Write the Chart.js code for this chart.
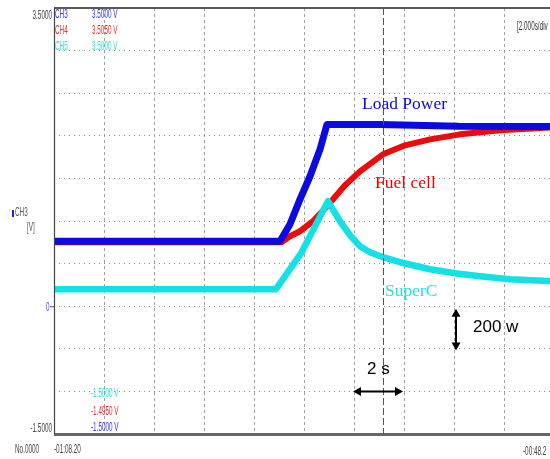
<!DOCTYPE html>
<html>
<head>
<meta charset="utf-8">
<script src="https://cdn.jsdelivr.net/npm/chart.js@4"></script>
<style>
  html, body { margin: 0; padding: 0; overflow: hidden; background: #fff; }
  #wrap { width: 560px; height: 459px; }
</style>
</head>
<body>
<div id="wrap"><canvas id="scope" width="560" height="459"></canvas></div>
<script>
// time in seconds (2 s/div, 10 div), values in volts (0.5 V/div)
const loadTime  = [0, 9.04, 9.44, 9.84, 10.24, 10.64, 10.92, 13.0, 16.2, 20];
const loadPower = [0.763, 0.763, 0.962, 1.255, 1.525, 1.841, 2.134, 2.134, 2.111, 2.11];

const fuelTime = [0, 9.1, 9.44, 9.84, 10.36, 10.92, 11.64, 12.24, 13.16, 14.04, 15.04, 16.24, 17.84, 20];
const fuelCell = [0.751, 0.751, 0.821, 0.880, 0.997, 1.173, 1.419, 1.583, 1.783, 1.888, 1.958, 2.017, 2.064, 2.099];

const superTime = [0, 8.88, 9.9, 10.96, 11.44, 11.84, 12.24, 12.64, 13.16, 13.84, 15.04, 16.04, 17.04, 18.24, 20];
const superC    = [0.200, 0.200, 0.63, 1.232, 0.997, 0.833, 0.704, 0.634, 0.575, 0.516, 0.434, 0.387, 0.352, 0.317, 0.294];

const yMin = -1.5, yMax = 3.5, yStep = 0.5;
const tMin = 0, tMax = 20, tStep = 2;
const cursorT = 13.16;

// scale annotation arrows (200 w per div, 2 s per div)
const powerArrow = { t: 16.08, from: -0.03, to: -0.52 };
const timeArrow = { v: -1.0, from: 11.96, to: 13.96 };

const pts = (xs, ys) => xs.map((x, i) => ({ x: x, y: ys[i] }));

function txt(ctx, s, x, y, font, color, align, sx, base) {
  ctx.save();
  ctx.font = font;
  ctx.fillStyle = color;
  ctx.textAlign = align || "left";
  ctx.textBaseline = base || "middle";
  ctx.translate(x, y);
  ctx.scale(sx || 1, 1);
  ctx.fillText(s, 0, 0);
  ctx.restore();
}

function arrowHead(ctx, x, y, dx, dy) {
  const L = 8, W = 4.5;
  ctx.beginPath();
  ctx.moveTo(x, y);
  ctx.lineTo(x - dx * L - dy * W, y - dy * L + dx * W);
  ctx.lineTo(x - dx * L + dy * W, y - dy * L - dx * W);
  ctx.closePath();
  ctx.fill();
}

const scopeDecor = {
  id: "scopeDecor",
  afterDraw(chart) {
    const ctx = chart.ctx;
    const a = chart.chartArea;
    const xs = chart.scales.x, ys = chart.scales.y;
    const small = "12px 'Liberation Sans', Arial, sans-serif";
    const sq = 0.53;

    // frame
    ctx.save();
    ctx.strokeStyle = "#5a5a5a";
    ctx.lineWidth = 2;
    ctx.beginPath(); ctx.moveTo(a.left, a.top); ctx.lineTo(a.right, a.top); ctx.stroke();
    ctx.lineWidth = 3;
    ctx.strokeStyle = "#666";
    ctx.beginPath(); ctx.moveTo(a.left, a.bottom + 0.5); ctx.lineTo(a.right, a.bottom + 0.5); ctx.stroke();
    ctx.lineWidth = 1.2;
    ctx.strokeStyle = "#444";
    ctx.beginPath(); ctx.moveTo(a.left + 0.5, a.top); ctx.lineTo(a.left + 0.5, a.bottom); ctx.stroke();

    // cursor
    const cx = Math.round(xs.getPixelForValue(cursorT)) + 0.5;
    ctx.strokeStyle = "#555";
    ctx.lineWidth = 1;
    ctx.setLineDash([7, 3]);
    ctx.beginPath(); ctx.moveTo(cx, a.top); ctx.lineTo(cx, a.bottom); ctx.stroke();
    ctx.setLineDash([]);

    // arrows
    ctx.strokeStyle = "#000";
    ctx.fillStyle = "#000";
    ctx.lineWidth = 2;
    const px = xs.getPixelForValue(powerArrow.t);
    const p1 = ys.getPixelForValue(powerArrow.from), p2 = ys.getPixelForValue(powerArrow.to);
    ctx.beginPath(); ctx.moveTo(px, p1 + 4); ctx.lineTo(px, p2 - 4); ctx.stroke();
    arrowHead(ctx, px, p1, 0, -1);
    arrowHead(ctx, px, p2, 0, 1);
    const ty = ys.getPixelForValue(timeArrow.v);
    const t1 = xs.getPixelForValue(timeArrow.from), t2 = xs.getPixelForValue(timeArrow.to);
    ctx.beginPath(); ctx.moveTo(t1 + 4, ty); ctx.lineTo(t2 - 4, ty); ctx.stroke();
    arrowHead(ctx, t1, ty, -1, 0);
    arrowHead(ctx, t2, ty, 1, 0);
    ctx.restore();

    // trace labels
    const serif = "17.5px 'Liberation Serif', 'Times New Roman', serif";
    txt(ctx, "Load Power", 362, 109, serif, "#0a0ad2", "left", 1, "alphabetic");
    txt(ctx, "Fuel cell", 375, 188, serif, "#f00000", "left", 1, "alphabetic");
    txt(ctx, "SuperC", 385, 296, serif, "#22e0e0", "left", 1, "alphabetic");
    const sans = "17px 'Liberation Sans', Arial, sans-serif";
    txt(ctx, "200 w", 473, 332, sans, "#000", "left", 1, "alphabetic");
    txt(ctx, "2 s", 367, 374, sans, "#000", "left", 1, "alphabetic");

    // scope readouts
    txt(ctx, "3.5000", 52, 16, small, "#444", "right", sq);
    txt(ctx, "CH3", 55, 15, small, "#3636e6", "left", sq);
    txt(ctx, "3.5000 V", 92, 15, small, "#3636e6", "left", sq);
    txt(ctx, "CH4", 55, 31, small, "#e83030", "left", sq);
    txt(ctx, "3.5050 V", 92, 31, small, "#e83030", "left", sq);
    txt(ctx, "CH5", 55, 47, small, "#30dada", "left", sq);
    txt(ctx, "3.5000 V", 92, 47, small, "#30dada", "left", sq);
    txt(ctx, "[2.000s/div", 517, 27, small, "#333", "left", sq);

    txt(ctx, "-1.5000 V", 91, 394, small, "#30dada", "left", sq);
    txt(ctx, "-1.4950 V", 91, 412, small, "#e83030", "left", sq);
    txt(ctx, "-1.5000 V", 91, 428, small, "#3636e6", "left", sq);
    txt(ctx, "-1.5000", 52, 429, small, "#444", "right", sq);

    ctx.save();
    ctx.fillStyle = "#2020e0";
    ctx.fillRect(12, 210, 2, 7);
    ctx.restore();
    txt(ctx, "CH3", 15, 213, small, "#555", "left", sq);
    txt(ctx, "[V]", 27, 228, small, "#555", "left", sq);

    const zy = ys.getPixelForValue(0);
    txt(ctx, "0", 46, zy + 1, small, "#4848d8", "left", sq);
    ctx.save();
    ctx.strokeStyle = "#4848d8";
    ctx.lineWidth = 1;
    ctx.beginPath(); ctx.moveTo(50, zy + 0.5); ctx.lineTo(a.left, zy + 0.5); ctx.stroke();
    ctx.restore();

    txt(ctx, "No.0000", 15, 450, small, "#444", "left", sq);
    txt(ctx, "-01:08.20", 54, 450, small, "#444", "left", sq);
    txt(ctx, "-00:48.2", 523, 452, small, "#444", "left", sq);
  }
};

const ctx = document.getElementById("scope").getContext("2d");
new Chart(ctx, {
  type: "line",
  data: {
    datasets: [
      { label: "SuperC", data: pts(superTime, superC), borderColor: "rgb(20, 225, 230)", borderWidth: 6.5, order: 0 },
      { label: "Load Power", data: pts(loadTime, loadPower), borderColor: "rgb(10, 10, 225)", borderWidth: 7, order: 1 },
      { label: "Fuel cell", data: pts(fuelTime, fuelCell), borderColor: "rgb(238, 10, 10)", borderWidth: 6, order: 2 }
    ]
  },
  options: {
    responsive: false,
    animation: false,
    elements: {
      point: { radius: 0 },
      line: { tension: 0, borderJoinStyle: "round", borderCapStyle: "butt" }
    },
    layout: { padding: { left: 54, top: 8, right: 6, bottom: 25 } },
    plugins: { legend: { display: false }, tooltip: { enabled: false } },
    scales: {
      x: {
        type: "linear",
        min: tMin,
        max: tMax,
        ticks: { display: false, stepSize: tStep },
        grid: { color: "#a0a0a0", drawTicks: false, lineWidth: 1 },
        border: { display: false, dash: [3, 3] }
      },
      y: {
        type: "linear",
        min: yMin,
        max: yMax,
        ticks: { display: false, stepSize: yStep },
        grid: { color: "#8a8a8a", drawTicks: false, lineWidth: 1 },
        border: { display: false, dash: [1, 4] }
      }
    }
  },
  plugins: [scopeDecor]
});
</script>
</body>
</html>
